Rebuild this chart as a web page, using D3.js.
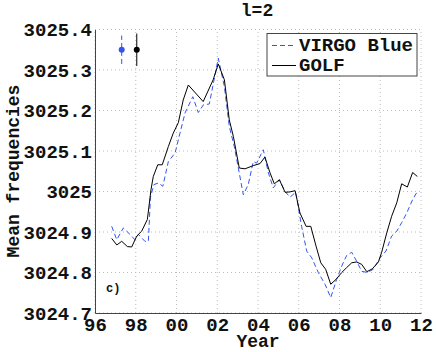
<!DOCTYPE html>
<html>
<head>
<meta charset="utf-8">
<script src="https://cdn.jsdelivr.net/npm/d3@7"></script>
<style>
  body { margin: 0; background: #fff; }
  svg text { font-family: "Liberation Mono", "DejaVu Sans Mono", monospace; font-weight: bold; fill: #111; }
</style>
</head>
<body>
<div id="chart"></div>
<script>
// years as 96..112 (two digit labels)
var golfYears = [96.82, 97.07, 97.31, 97.59, 97.80, 98.05, 98.29, 98.57, 98.75, 98.86, 99.08, 99.30, 99.60, 99.84,
  100.09, 100.33, 100.58, 101.31, 101.80, 102.05, 102.35, 102.59, 102.79, 103.08, 103.36, 103.77, 104.10, 104.34,
  104.59, 104.80, 105.05, 105.33, 105.57, 105.82, 106.06, 106.36, 106.59, 106.85, 107.08, 107.32, 107.57, 107.83,
  108.11, 108.35, 108.60, 108.84, 109.09, 109.34, 109.61, 109.91, 110.07, 110.32, 110.56, 110.81, 111.05, 111.33,
  111.59, 111.82];
var golfFreq = [3024.884, 3024.868, 3024.877, 3024.864, 3024.863, 3024.890, 3024.902, 3024.931, 3025.005, 3025.037,
  3025.066, 3025.066, 3025.111, 3025.144, 3025.170, 3025.226, 3025.263, 3025.222, 3025.276, 3025.315, 3025.276,
  3025.177, 3025.136, 3025.058, 3025.056, 3025.064, 3025.069, 3025.085, 3025.046, 3025.019, 3025.029, 3024.998,
  3024.999, 3025.002, 3024.947, 3024.914, 3024.914, 3024.865, 3024.824, 3024.808, 3024.771, 3024.783, 3024.800,
  3024.812, 3024.824, 3024.826, 3024.820, 3024.802, 3024.809, 3024.826, 3024.850, 3024.898, 3024.939, 3024.972,
  3025.019, 3025.011, 3025.047, 3025.037];

var virgoYears = [96.82, 97.07, 97.39, 97.72, 97.96, 98.13, 98.45, 98.62, 98.72, 98.89, 99.11, 99.33, 99.60, 99.93,
  100.17, 100.42, 100.80, 101.07, 101.32, 101.61, 101.81, 102.05, 102.35, 102.59, 102.84, 103.28, 103.52, 103.77,
  103.93, 104.26, 104.51, 104.75, 105.05, 105.33, 105.57, 105.85, 106.14, 106.39, 106.64, 106.96, 107.29, 107.57,
  107.86, 108.11, 108.35, 108.60, 108.84, 109.09, 109.37, 109.66, 109.99, 110.28, 110.56, 110.81, 111.05, 111.30,
  111.59, 111.82];
var virgoFreq = [3024.914, 3024.881, 3024.910, 3024.894, 3024.881, 3024.894, 3024.877, 3024.877, 3024.985, 3025.017,
  3025.021, 3025.013, 3025.074, 3025.095, 3025.144, 3025.194, 3025.234, 3025.195, 3025.214, 3025.216, 3025.267,
  3025.329, 3025.259, 3025.161, 3025.110, 3024.992, 3025.017, 3025.074, 3025.070, 3025.103, 3025.046, 3025.009,
  3025.029, 3025.000, 3024.986, 3024.998, 3024.914, 3024.853, 3024.836, 3024.800, 3024.771, 3024.738, 3024.783,
  3024.816, 3024.842, 3024.850, 3024.828, 3024.803, 3024.800, 3024.808, 3024.836, 3024.853, 3024.890, 3024.902,
  3024.923, 3024.947, 3024.980, 3025.000];

// typical error bars drawn top-left
var errYears = [97.31, 98.05];
var errFreq = [3025.35, 3025.35];
var errSize = [0.035, 0.04];

var xTicks = [96, 98, 100, 102, 104, 106, 108, 110, 112];
var yTicks = [3024.7, 3024.8, 3024.9, 3025.0, 3025.1, 3025.2, 3025.3, 3025.4];
var seriesNames = ["VIRGO Blue", "GOLF"];

var width = 436, height = 352;
var margin = {left: 95, right: 15, top: 29.5, bottom: 39};
var blue = "#3355ee";

var svg = d3.select("#chart").append("svg")
  .attr("width", width)
  .attr("height", height);

var x = d3.scaleLinear().domain([96, 112]).range([margin.left, width - margin.right]);
var y = d3.scaleLinear().domain([3024.7, 3025.4]).range([height - margin.bottom, margin.top]);

// grid
svg.append("g").selectAll("line")
  .data(xTicks)
  .enter().append("line")
    .attr("x1", function(d){ return x(d); })
    .attr("x2", function(d){ return x(d); })
    .attr("y1", y(3024.7))
    .attr("y2", y(3025.4))
    .attr("stroke", "#bbb")
    .attr("stroke-dasharray", "1,3");
svg.append("g").selectAll("line")
  .data(yTicks)
  .enter().append("line")
    .attr("x1", x(96))
    .attr("x2", x(112))
    .attr("y1", function(d){ return y(d); })
    .attr("y2", function(d){ return y(d); })
    .attr("stroke", "#bbb")
    .attr("stroke-dasharray", "1,3");

// axes
var xAxis = d3.axisBottom(x)
  .tickValues(xTicks)
  .tickSize(0)
  .tickPadding(5)
  .tickFormat(function(d){ var v = d % 100; return (v < 10 ? "0" : "") + v; });
var yAxis = d3.axisLeft(y)
  .tickValues(yTicks)
  .tickSize(0)
  .tickPadding(3)
  .tickFormat(function(d){ return String(Math.round(d * 10) / 10); });

var gx = svg.append("g")
  .attr("transform", "translate(0," + y(3024.7) + ")")
  .call(xAxis);
var gy = svg.append("g")
  .attr("transform", "translate(" + x(96) + ",0)")
  .call(yAxis);
[gx, gy].forEach(function(g){
  g.select(".domain").attr("stroke", "#444");
  g.selectAll("text").attr("font-size", 19).attr("font-family", null).attr("fill", "#111");
});
gx.selectAll("text").attr("dy", "0.71em");

// lines
var line = d3.line()
  .x(function(d){ return x(d[0]); })
  .y(function(d){ return y(d[1]); });

svg.append("path")
  .datum(d3.zip(virgoYears, virgoFreq))
  .attr("d", line)
  .attr("fill", "none")
  .attr("stroke", blue)
  .attr("stroke-width", 1)
  .attr("stroke-dasharray", "5,3");

svg.append("path")
  .datum(d3.zip(golfYears, golfFreq))
  .attr("d", line)
  .attr("fill", "none")
  .attr("stroke", "#000")
  .attr("stroke-width", 1);

// error bars
var errColors = [blue, "#000"];
var errDash = ["5,3", null];
for (var i = 0; i < errYears.length; i++){
  svg.append("line")
    .attr("x1", x(errYears[i]))
    .attr("x2", x(errYears[i]))
    .attr("y1", y(errFreq[i] - errSize[i]))
    .attr("y2", y(errFreq[i] + errSize[i]))
    .attr("stroke", errColors[i])
    .attr("stroke-dasharray", errDash[i]);
  svg.append("circle")
    .attr("cx", x(errYears[i]))
    .attr("cy", y(errFreq[i]))
    .attr("r", 3)
    .attr("fill", errColors[i]);
}

// legend
var lg = svg.append("g").attr("transform", "translate(267,33.5)");
lg.append("rect")
  .attr("width", 150)
  .attr("height", 42.5)
  .attr("fill", "#fff")
  .attr("stroke", "#444");
seriesNames.forEach(function(name, i){
  lg.append("line")
    .attr("x1", 5).attr("x2", 29)
    .attr("y1", 12 + i * 20).attr("y2", 12 + i * 20)
    .attr("stroke", i === 0 ? blue : "#000")
    .attr("stroke-dasharray", i === 0 ? "5,3" : null);
  lg.append("text")
    .attr("x", 32)
    .attr("y", 17.5 + i * 20)
    .attr("font-size", 19)
    .text(name);
});

// labels
svg.append("text")
  .attr("x", 257)
  .attr("y", 16)
  .attr("text-anchor", "middle")
  .attr("font-size", 18)
  .text("l=2");
svg.append("text")
  .attr("x", 258)
  .attr("y", 347)
  .attr("text-anchor", "middle")
  .attr("font-size", 18)
  .text("Year");
svg.append("text")
  .attr("transform", "translate(19,171) rotate(-90)")
  .attr("text-anchor", "middle")
  .attr("font-size", 18)
  .text("Mean frequencies");
svg.append("text")
  .attr("x", 106)
  .attr("y", 292)
  .attr("font-size", 12)
  .text("c)");
</script>
</body>
</html>
